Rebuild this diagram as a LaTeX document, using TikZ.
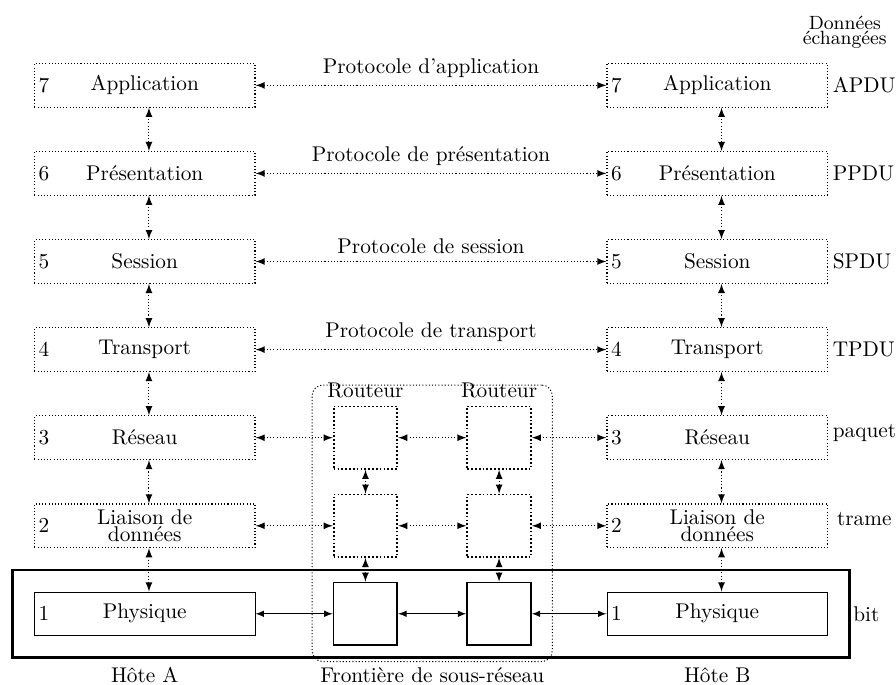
\documentclass[tikz,border=0pt]{standalone}
\usepackage{xcolor}
\usetikzlibrary{positioning,fit,arrows}
\tikzstyle{layer} = [draw, densely dotted, line width=0.5pt, minimum width=3.64cm, minimum height=0.72cm, inner ysep=1pt, align=center]
\tikzstyle{phys} = [draw, minimum width=3.64cm, minimum height=0.72cm]
\tikzstyle{router} = [draw, thick, densely dotted, minimum width=1.05cm, minimum height=1.03cm]
\tikzstyle{wire} = [draw, thick, minimum width=1.05cm, minimum height=1.03cm]
\tikzstyle{num} = [anchor=west, inner sep=2pt]
\tikzstyle{link} = [densely dotted, line width=0.5pt, <->, >=latex]
\tikzstyle{cable} = [<->, >=latex]
\tikzstyle{pdu} = [anchor=west, inner sep=2pt]

\begin{document}
\begin{tikzpicture}
	\useasboundingbox (0,0) rectangle (14.785,-11.287);
	% hote A
	\node[layer, label={[num]west:7}] (a7) at (2.388,-1.408) {Application};
	\node[layer, label={[num]west:6}, below=0.716cm of a7] (a6) {Présentation};
	\node[layer, label={[num]west:5}, below=0.716cm of a6] (a5) {Session};
	\node[layer, label={[num]west:4}, below=0.716cm of a5] (a4) {Transport};
	\node[layer, label={[num]west:3}, below=0.716cm of a4] (a3) {Réseau};
	\node[layer, label={[num]west:2}, below=0.716cm of a3] (a2) {Liaison de\\[-4.2pt]données};
	\node[phys, label={[num]west:1}, below=0.716cm of a2] (a1) {Physique};
	% hote B
	\node[layer, label={[num]west:7}, right=5.79cm of a7] (b7) {Application};
	\node[layer, label={[num]west:6}, below=0.716cm of b7] (b6) {Présentation};
	\node[layer, label={[num]west:5}, below=0.716cm of b6] (b5) {Session};
	\node[layer, label={[num]west:4}, below=0.716cm of b5] (b4) {Transport};
	\node[layer, label={[num]west:3}, below=0.716cm of b4] (b3) {Réseau};
	\node[layer, label={[num]west:2}, below=0.716cm of b3] (b2) {Liaison de\\[-4.2pt]données};
	\node[phys, label={[num]west:1}, below=0.716cm of b2] (b1) {Physique};
	% routeurs
	\node[router, label=above:Routeur, right=1.275cm of a3] (r3a) {};
	\node[router, label=above:Routeur, right=1.127cm of r3a] (r3b) {};
	\node[router, right=1.275cm of a2] (r2a) {};
	\node[router, right=1.127cm of r2a] (r2b) {};
	\node[wire, right=1.275cm of a1] (r1a) {};
	\node[wire, right=1.127cm of r1a] (r1b) {};
	\node[draw, densely dotted, line width=0.5pt, rounded corners=5pt, fit=(r3a)(r1b), inner xsep=0.34cm, inner ysep=0.3cm, yshift=0.04cm] (sub) {};
	\node[draw, very thick, fit=(a1)(b1), inner sep=0.356cm] (net) {};
	% protocoles
	\draw[link] (a7) -- node[above] {Protocole d'application} (b7);
	\draw[link] (a6) -- node[above] {Protocole de présentation} (b6);
	\draw[link] (a5) -- node[above] {Protocole de session} (b5);
	\draw[link] (a4) -- node[above] {Protocole de transport} (b4);
	\draw[link] (a3) -- (r3a);
	\draw[link] (r3a) -- (r3b);
	\draw[link] (r3b) -- (b3);
	\draw[link] (a2) -- (r2a);
	\draw[link] (r2a) -- (r2b);
	\draw[link] (r2b) -- (b2);
	\draw[cable] (a1) -- (r1a);
	\draw[cable] (r1a) -- (r1b);
	\draw[cable] (r1b) -- (b1);
	\foreach \u/\l in {7/6,6/5,5/4,4/3,3/2,2/1}{
		\draw[link] ([xshift=.07cm]a\u.south) -- ([xshift=.07cm]a\l.north);
		\draw[link] ([xshift=.07cm]b\u.south) -- ([xshift=.07cm]b\l.north);
	}
	\draw[link] (r3a) -- (r2a);
	\draw[link] (r2a) -- (r1a);
	\draw[link] (r3b) -- (r2b);
	\draw[link] (r2b) -- (r1b);
	% donnees echangees
	\node[align=center, font=\small] (donnees) at (13.94,-0.53) {Données\\[-4.2pt]échangées};
	\node[pdu] (pdu7) at (b7.east) {APDU};
	\node[pdu] (pdu6) at (b6.east) {PPDU};
	\node[pdu] (pdu5) at (b5.east) {SPDU};
	\node[pdu] (pdu4) at (b4.east) {TPDU};
	\node[pdu, yshift=.08cm] (pdu3) at (b3.east) {paquet};
	\node[pdu, xshift=.07cm, yshift=.11cm] (pdu2) at (b2.east) {trame};
	\node[pdu, inner sep=1pt] (pdu1) at (net.east) {bit};
	% legendes
	\coordinate (base) at (0,-11.14);
	\node (hoteA) at (a1 |- base) {Hôte A};
	\node (front) at (sub |- base) {Frontière de sous-réseau};
	\node (hoteB) at (b1 |- base) {Hôte B};
\end{tikzpicture}
\end{document}
